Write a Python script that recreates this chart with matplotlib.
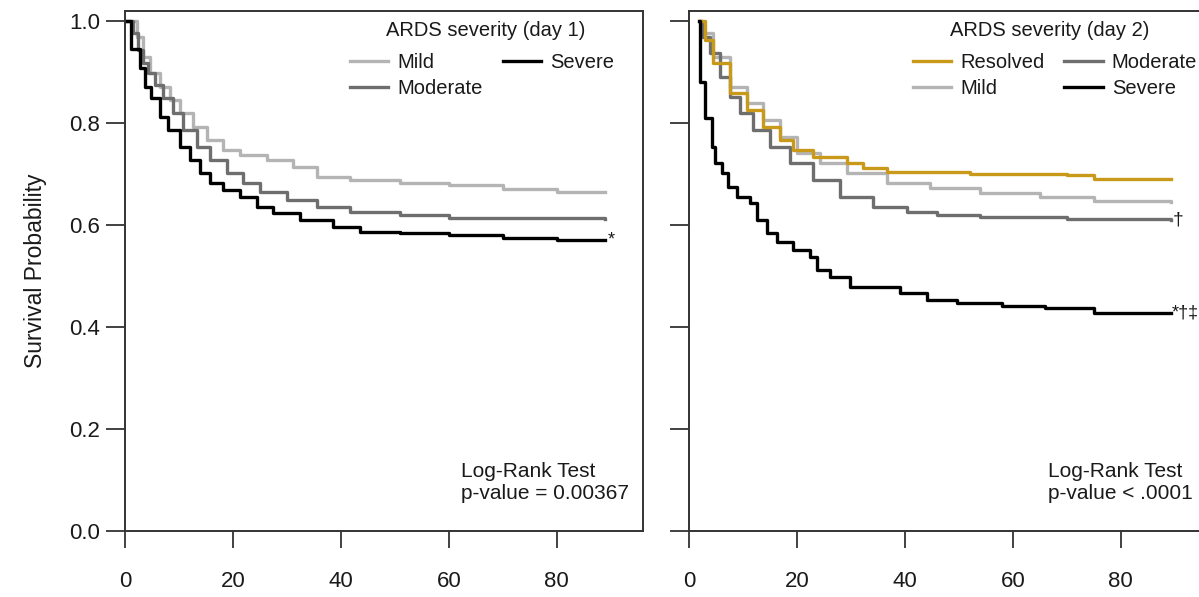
import matplotlib
matplotlib.use("Agg")
import matplotlib.pyplot as plt

plt.rcParams['font.family'] = ['Liberation Sans', 'DejaVu Sans']

# ---------------- data ----------------
# Day 1 panel
d1_mild_t = [0, 2.2, 3.3, 4.6, 6.5, 8.3, 10.2, 12.6, 15.2, 18.1, 21.3, 26.3, 31.1, 35.6, 41.7, 50.9, 60, 70, 80, 89]
d1_mild_s = [1.0, 0.969, 0.929, 0.898, 0.871, 0.845, 0.820, 0.792, 0.767, 0.747, 0.737, 0.727, 0.714, 0.694, 0.688, 0.682, 0.678, 0.670, 0.665, 0.665]

d1_mod_t = [0, 1.5, 2.4, 3.3, 4.3, 5.6, 7.0, 8.9, 10.7, 13.3, 15.7, 18.9, 21.9, 25.0, 30.0, 35.6, 41.7, 50.9, 60, 89]
d1_mod_s = [1.0, 0.976, 0.943, 0.918, 0.898, 0.875, 0.849, 0.820, 0.786, 0.753, 0.727, 0.702, 0.682, 0.665, 0.649, 0.635, 0.625, 0.620, 0.614, 0.612]

d1_sev_t = [0, 1.2, 2.8, 3.7, 4.9, 6.5, 8.0, 10.2, 12.0, 13.9, 15.7, 18.1, 21.3, 24.4, 27.4, 32.4, 38.5, 43.5, 50.9, 60, 70, 80, 89]
d1_sev_s = [1.0, 0.946, 0.908, 0.871, 0.849, 0.812, 0.786, 0.753, 0.727, 0.702, 0.682, 0.669, 0.655, 0.635, 0.624, 0.610, 0.596, 0.586, 0.584, 0.580, 0.575, 0.570, 0.570]

# Day 2 panel
d2_res_t = [2.0, 3.0, 4.4, 7.6, 10.7, 13.7, 16.9, 19.3, 23.0, 29.3, 32.2, 36.7, 52.0, 70, 75, 89.4]
d2_res_s = [1.0, 0.963, 0.918, 0.859, 0.825, 0.792, 0.767, 0.747, 0.733, 0.722, 0.712, 0.704, 0.700, 0.698, 0.690, 0.690]

d2_mild_t = [2.0, 2.6, 4.4, 7.6, 10.7, 13.7, 16.9, 20.0, 24.3, 29.3, 36.7, 44.6, 53.9, 65, 75, 89.4]
d2_mild_s = [1.0, 0.976, 0.929, 0.871, 0.839, 0.806, 0.773, 0.741, 0.722, 0.702, 0.682, 0.673, 0.663, 0.655, 0.647, 0.645]

d2_mod_t = [2.0, 2.4, 3.9, 5.7, 7.6, 9.4, 11.9, 15.0, 18.7, 23.0, 28.0, 34.1, 40.4, 45.9, 53.9, 70, 89.4]
d2_mod_s = [1.0, 0.969, 0.937, 0.890, 0.851, 0.820, 0.786, 0.753, 0.722, 0.688, 0.655, 0.635, 0.625, 0.620, 0.616, 0.612, 0.610]

d2_sev_t = [1.85, 2.0, 3.0, 4.3, 4.8, 6.1, 7.2, 8.9, 11.3, 12.6, 14.4, 16.3, 19.3, 22.4, 23.7, 26.1, 29.8, 39.1, 44.1, 49.6, 58, 66, 75, 89.4]
d2_sev_s = [1.0, 0.881, 0.810, 0.753, 0.721, 0.702, 0.675, 0.655, 0.643, 0.610, 0.584, 0.567, 0.551, 0.537, 0.512, 0.498, 0.478, 0.467, 0.453, 0.447, 0.441, 0.437, 0.428, 0.427]

x_ticks = [0, 20, 40, 60, 80]
y_ticks = [0.0, 0.2, 0.4, 0.6, 0.8, 1.0]
y_ticklabels = ["0.0", "0.2", "0.4", "0.6", "0.8", "1.0"]

c_mild = "#b4b4b4"
c_mod = "#6e6e6e"
c_sev = "#000000"
c_res = "#c99a1a"
txt = "#1a1a1a"
lw = 2.4

W, H = 1199, 597
fig = plt.figure(figsize=(W / 100, H / 100), dpi=100)

def px_axes(x0, y_top, w, h):
    return fig.add_axes([x0 / W, 1 - (y_top + h) / H, w / W, h / H])

ax1 = px_axes(125, 11, 518, 520)
ax2 = px_axes(689, 11, 518, 520)

for ax in (ax1, ax2):
    ax.set_xlim(0, 96)
    ax.set_ylim(0, 1.0196)
    ax.set_xticks(x_ticks)
    ax.set_yticks(y_ticks)
    for s in ax.spines.values():
        s.set_color("#333333")
        s.set_linewidth(1.4)
    ax.tick_params(axis='both', direction='out', width=1.3, color="#333333",
                   labelcolor=txt)
    ax.tick_params(axis='x', length=12, pad=17, labelsize=16)
    ax.tick_params(axis='y', length=14, pad=4, labelsize=16)

ax1.set_yticklabels(y_ticklabels)
ax2.set_yticklabels([])
ax1.set_ylabel("Survival Probability", fontsize=16.5, color=txt, labelpad=16)

# curves
h_mild1, = ax1.step(d1_mild_t, d1_mild_s, where='post', color=c_mild, lw=lw, label="Mild")
h_mod1, = ax1.step(d1_mod_t, d1_mod_s, where='post', color=c_mod, lw=lw, label="Moderate")
h_sev1, = ax1.step(d1_sev_t, d1_sev_s, where='post', color=c_sev, lw=lw, label="Severe")

h_mild2, = ax2.step(d2_mild_t, d2_mild_s, where='post', color=c_mild, lw=lw, label="Mild")
h_mod2, = ax2.step(d2_mod_t, d2_mod_s, where='post', color=c_mod, lw=lw, label="Moderate")
h_res2, = ax2.step(d2_res_t, d2_res_s, where='post', color=c_res, lw=lw, label="Resolved")
h_sev2, = ax2.step(d2_sev_t, d2_sev_s, where='post', color=c_sev, lw=lw, label="Severe")

leg_kw = dict(frameon=False, fontsize=14.5, ncol=2, handlelength=1.9,
              handletextpad=0.45, columnspacing=1.0, labelspacing=0.35, borderpad=0,
              borderaxespad=0, loc='upper left')
l1 = ax1.legend([h_mild1, h_mod1, h_sev1], ["Mild", "Moderate", "Severe"],
                bbox_to_anchor=(0.434, 0.919), **leg_kw)
l2 = ax2.legend([h_res2, h_mild2, h_mod2, h_sev2], ["Resolved", "Mild", "Moderate", "Severe"],
                bbox_to_anchor=(0.432, 0.919), **leg_kw)
for l in (l1, l2):
    for t in l.get_texts():
        t.set_color(txt)

# legend titles
ax1.text((486 - 125) / 518, (531 - 30) / 520, "ARDS severity (day 1)", transform=ax1.transAxes,
         fontsize=14.5, color=txt, ha='center', va='center')
ax2.text((1050 - 689) / 518, (531 - 30) / 520, "ARDS severity (day 2)", transform=ax2.transAxes,
         fontsize=14.5, color=txt, ha='center', va='center')

# significance marks
ax1.text(d1_sev_t[-1] + 0.4, d1_sev_s[-1], "*", fontsize=13, color=txt, ha='left', va='center')
ax2.text(d2_mod_t[-1] + 0.2, d2_mod_s[-1], "†", fontsize=14, color=txt, ha='left', va='center')
ax2.text(d2_sev_t[-1] + 0.1, d2_sev_s[-1], "*†‡", fontsize=13, color=txt, ha='left', va='center')

# log-rank text
ax1.text(62.3, 0.095, "Log-Rank Test\np-value = 0.00367", fontsize=15, color=txt,
         ha='left', va='center', multialignment='left', linespacing=1.2)
ax2.text(66.6, 0.095, "Log-Rank Test\np-value < .0001", fontsize=15, color=txt,
         ha='left', va='center', multialignment='left', linespacing=1.2)

fig.savefig("out.png", dpi=100)
